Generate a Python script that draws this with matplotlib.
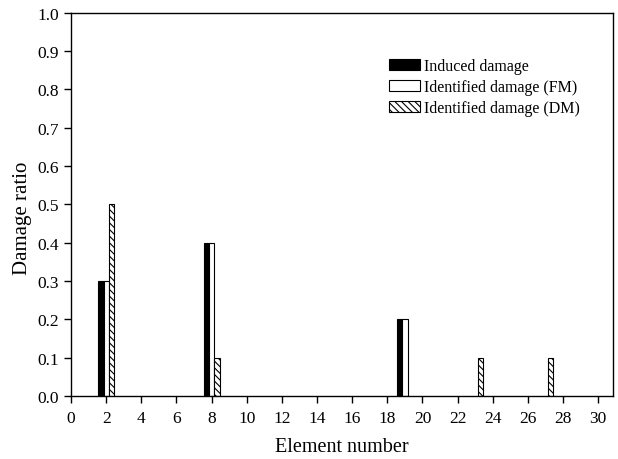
import numpy as np
import matplotlib
matplotlib.use('Agg')
import matplotlib.pyplot as plt

plt.rcParams['font.family'] = ['Liberation Serif', 'DejaVu Serif']
plt.rcParams['hatch.linewidth'] = 0.8

# Data
induced_elem = [2, 8, 19]
induced_val = [0.3, 0.4, 0.2]
fm_elem = [2, 8, 19]
fm_val = [0.3, 0.4, 0.2]
dm_elem = [2, 8, 23, 27]
dm_val = [0.5, 0.1, 0.1, 0.1]

w = 0.3
fig = plt.figure(figsize=(6.18, 4.60), dpi=100)
ax = fig.add_axes([0.115, 0.137, 0.877, 0.833])

ax.bar(np.array(induced_elem) - w, induced_val, width=w, color='black', edgecolor='black',
       linewidth=0.8, label='Induced damage')
ax.bar(np.array(fm_elem), fm_val, width=w, color='white', edgecolor='black',
       linewidth=0.8, label='Identified damage (FM)')
ax.bar(np.array(dm_elem) + w, dm_val, width=w, color='white', edgecolor='black',
       linewidth=0.8, hatch='\\\\\\\\\\', label='Identified damage (DM)')

ax.set_xlim(0, 30.85)
ax.set_ylim(0, 1.0)
ax.set_xticks(np.arange(0, 31, 2))
ax.set_yticks(np.arange(0, 1.01, 0.1))
ax.set_yticklabels([f'{v:.1f}' for v in np.arange(0, 1.01, 0.1)])
ax.tick_params(direction='out', length=5, width=1, labelsize=12.5)
ax.tick_params(axis='x', pad=5)
for s in ax.spines.values():
    s.set_linewidth(1)

ax.set_xlabel('Element number', fontsize=14.5)
ax.set_ylabel('Damage ratio', fontsize=15)
ax.xaxis.set_label_coords(0.5, -0.107)
ax.yaxis.set_label_coords(-0.072, 0.465)

ax.legend(loc='upper left', bbox_to_anchor=(0.574, 0.898), frameon=False, fontsize=11.5,
          handlelength=1.95, handleheight=0.65, handletextpad=0.25, labelspacing=0.3,
          borderaxespad=0)

fig.savefig('out.png', dpi=100)
